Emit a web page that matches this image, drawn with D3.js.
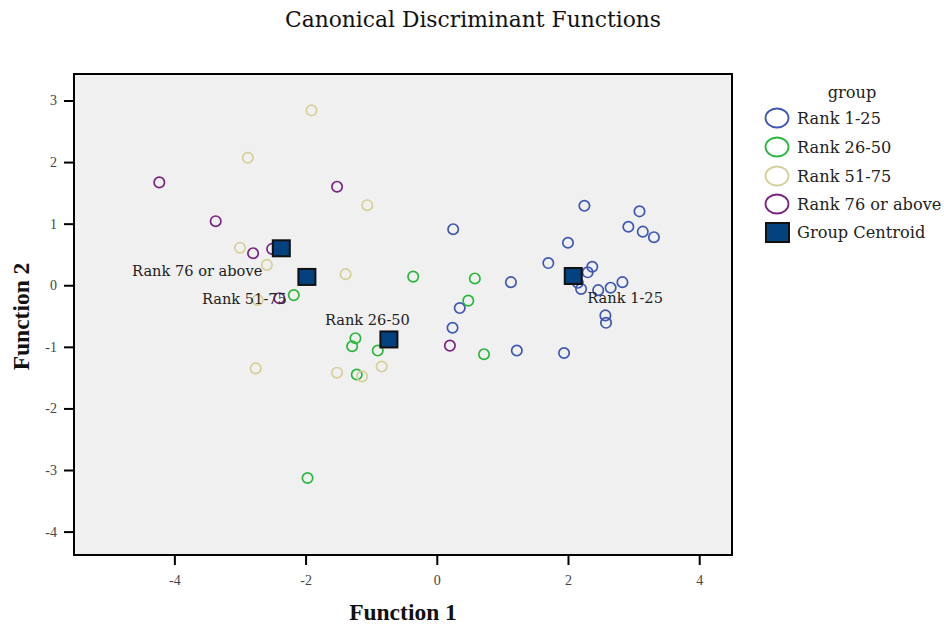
<!DOCTYPE html>
<html>
<head>
<meta charset="utf-8">
<script src="https://cdn.jsdelivr.net/npm/d3@7"></script>
<style>
  html, body { margin: 0; padding: 0; background: #ffffff; }
  svg { display: block; }
</style>
</head>
<body>
<svg id="chart" width="944" height="625"></svg>
<script>
// ---- data ----
const groups = ["Rank 1-25", "Rank 26-50", "Rank 51-75", "Rank 76 or above"];
const groupColors = ["#3d57b3", "#2ab83c", "#d6cf98", "#7a2381"];

const rank1_25 = [
  [0.25, 0.91], [0.35, -0.37], [0.24, -0.69], [1.13, 0.05], [1.22, -1.06],
  [1.94, -1.10], [1.70, 0.36], [2.00, 0.69], [2.25, 1.29], [3.09, 1.20],
  [2.92, 0.95], [3.14, 0.87], [3.31, 0.78], [2.37, 0.30], [2.30, 0.21],
  [2.15, 0.04], [2.20, -0.06], [2.46, -0.08], [2.65, -0.04], [2.83, 0.05],
  [2.57, -0.49], [2.58, -0.61]
];
const rank26_50 = [
  [-2.18, -0.16], [-0.36, 0.14], [0.58, 0.11], [0.48, -0.25], [-1.24, -0.86],
  [-1.29, -0.99], [-0.90, -1.06], [0.72, -1.12], [-1.22, -1.45], [-1.97, -3.13]
];
const rank51_75 = [
  [-1.91, 2.84], [-2.88, 2.07], [-3.00, 0.61], [-2.59, 0.33], [-2.73, -0.24],
  [-1.06, 1.30], [-1.39, 0.18], [-2.76, -1.35], [-1.52, -1.42], [-1.14, -1.48],
  [-0.84, -1.32]
];
const rank76 = [
  [-4.23, 1.67], [-3.37, 1.04], [-2.80, 0.52], [-2.51, 0.59], [-2.40, -0.21],
  [-1.52, 1.60], [0.20, -0.98]
];
const seriesValues = [rank1_25, rank26_50, rank51_75, rank76];

const centroids = [
  [2.08, 0.15], [-0.73, -0.88], [-1.98, 0.135], [-2.37, 0.60]
];

const xTicks = [-4, -2, 0, 2, 4];
const yTicks = [3, 2, 1, 0, -1, -2, -3, -4];
const xDomain = [-5.53, 4.5];
const yDomain = [-4.38, 3.43];

// ---- layout ----
const SERIF_WIDE = "'DejaVu Serif', serif";
const SERIF = "'Liberation Serif', 'DejaVu Serif', serif";
const svg = d3.select("#chart");
const plot = { left: 74, top: 74, right: 732, bottom: 555 };

const x = d3.scaleLinear().domain(xDomain).range([plot.left, plot.right]);
const y = d3.scaleLinear().domain(yDomain).range([plot.bottom, plot.top]);

// title
svg.append("text")
  .attr("x", 473).attr("y", 27)
  .attr("text-anchor", "middle")
  .attr("font-family", SERIF_WIDE)
  .attr("font-size", 21.8)
  .attr("fill", "#111")
  .text("Canonical Discriminant Functions");

// plot background
svg.append("rect")
  .attr("x", plot.left).attr("y", plot.top)
  .attr("width", plot.right - plot.left).attr("height", plot.bottom - plot.top)
  .attr("fill", "#f0f0f0");

// axes
const fmt = d => d < 0 ? "-" + Math.abs(d) : String(d);
const xAxis = d3.axisBottom(x).tickValues(xTicks).tickSize(9).tickPadding(10).tickFormat(fmt);
const gx = svg.append("g").attr("transform", `translate(0,${plot.bottom + 1})`).call(xAxis);
gx.select(".domain").remove();
gx.selectAll(".tick line").attr("stroke", "#000").attr("stroke-width", 2);
gx.selectAll(".tick text").attr("font-size", 14).attr("fill", "#444")
  .attr("font-family", SERIF);

const yAxis = d3.axisLeft(y).tickValues(yTicks).tickSize(9).tickPadding(7).tickFormat(fmt);
const gy = svg.append("g").attr("transform", `translate(${plot.left - 1},0)`).call(yAxis);
gy.select(".domain").remove();
gy.selectAll(".tick line").attr("stroke", "#000").attr("stroke-width", 2);
gy.selectAll(".tick text").attr("font-size", 14).attr("fill", "#444")
  .attr("font-family", SERIF);

// points
svg.append("clipPath").attr("id", "clip").append("rect")
  .attr("x", plot.left).attr("y", plot.top)
  .attr("width", plot.right - plot.left).attr("height", plot.bottom - plot.top);

const pts = svg.append("g").attr("clip-path", "url(#clip)");
seriesValues.forEach((vals, gi) => {
  pts.selectAll(null).data(vals).enter().append("circle")
    .attr("cx", d => x(d[0])).attr("cy", d => y(d[1]))
    .attr("r", 5.2)
    .attr("fill", "none")
    .attr("stroke", groupColors[gi])
    .attr("stroke-width", 1.7);
});

// centroid labels
const labelAnchor = [
  { dx: 14, dy: 27, anchor: "start" },
  { dx: 21, dy: -14, anchor: "end" },
  { dx: -20, dy: 27, anchor: "end" },
  { dx: -19, dy: 28, anchor: "end" }
];
const lab = svg.append("g");
centroids.forEach((c, i) => {
  lab.append("text")
    .attr("x", x(c[0]) + labelAnchor[i].dx)
    .attr("y", y(c[1]) + labelAnchor[i].dy)
    .attr("text-anchor", labelAnchor[i].anchor)
    .attr("font-family", SERIF_WIDE)
    .attr("font-size", 14.6)
    .attr("fill", "#222")
    .text(groups[i]);
});

// centroids
svg.append("g").selectAll("rect").data(centroids).enter().append("rect")
  .attr("x", d => x(d[0]) - 8.5).attr("y", d => y(d[1]) - 8)
  .attr("width", 17).attr("height", 16)
  .attr("fill", "#03427e")
  .attr("stroke", "#111")
  .attr("stroke-width", 2);

// frame
svg.append("rect")
  .attr("x", plot.left).attr("y", plot.top)
  .attr("width", plot.right - plot.left).attr("height", plot.bottom - plot.top)
  .attr("fill", "none").attr("stroke", "#000").attr("stroke-width", 2);

// axis titles
svg.append("text")
  .attr("x", (plot.left + plot.right) / 2).attr("y", 620)
  .attr("text-anchor", "middle")
  .attr("font-family", SERIF)
  .attr("font-size", 23.5).attr("font-weight", "bold").attr("fill", "#111")
  .text("Function 1");
svg.append("text")
  .attr("transform", `translate(29,${(plot.top + plot.bottom) / 2 + 2}) rotate(-90)`)
  .attr("text-anchor", "middle")
  .attr("font-family", SERIF)
  .attr("font-size", 23.5).attr("font-weight", "bold").attr("fill", "#111")
  .text("Function 2");

// legend
const leg = svg.append("g");
leg.append("text").attr("x", 852).attr("y", 98).attr("text-anchor", "middle")
  .attr("font-family", SERIF_WIDE)
  .attr("font-size", 16.2).attr("fill", "#222").text("group");
const legY = [118, 147, 176, 204];
groups.forEach((g, i) => {
  leg.append("ellipse").attr("cx", 777).attr("cy", legY[i])
    .attr("rx", 11.5).attr("ry", 9.5)
    .attr("fill", "none").attr("stroke", groupColors[i]).attr("stroke-width", 1.8);
  leg.append("text").attr("x", 797).attr("y", legY[i] + 6)
    .attr("font-family", SERIF_WIDE)
    .attr("font-size", 16.2).attr("fill", "#222").text(g);
});
leg.append("rect").attr("x", 766).attr("y", 223).attr("width", 23).attr("height", 19)
  .attr("fill", "#03427e").attr("stroke", "#111").attr("stroke-width", 2);
leg.append("text").attr("x", 797).attr("y", 238)
  .attr("font-family", SERIF_WIDE)
  .attr("font-size", 16.2).attr("fill", "#222").text("Group Centroid");
</script>
</body>
</html>
